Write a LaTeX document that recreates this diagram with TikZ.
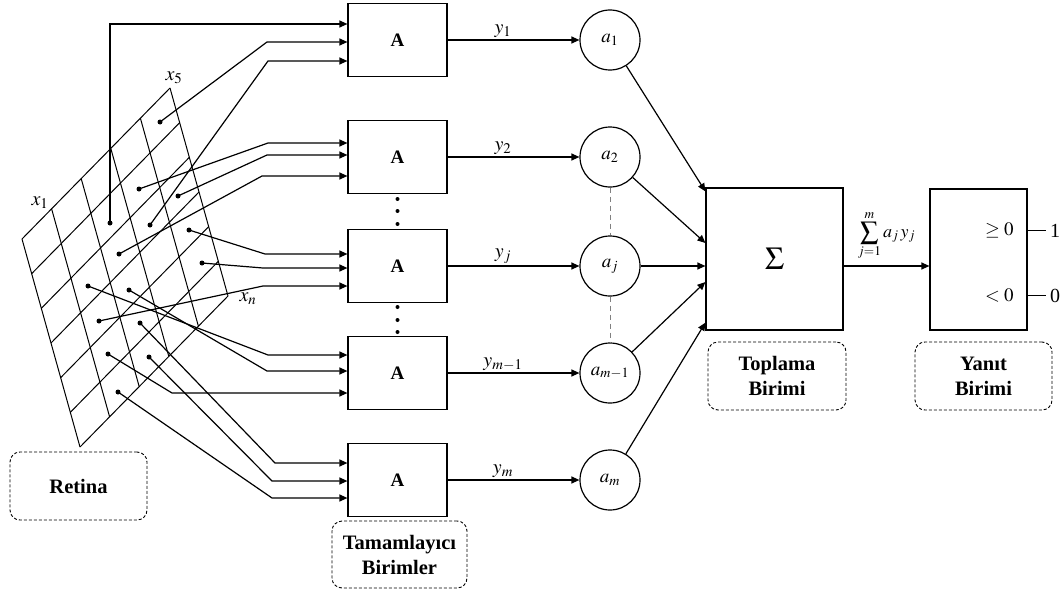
\documentclass[tikz,border=0pt]{standalone}
\usepackage{mathptmx}
\usepackage{fontspec}
\setmainfont{Liberation Serif}
\usetikzlibrary{arrows.meta,calc}

\begin{document}
\begin{tikzpicture}[x=1pt,y=-1pt,line width=1.2pt,
    >={Triangle[length=8pt,width=7pt]},
    abox/.style={draw,minimum width=99pt,minimum height=73pt,inner sep=0pt,font=\fontsize{19}{22}\selectfont\bfseries},
    unit/.style={draw,circle,minimum size=60pt,inner sep=0pt,font=\fontsize{19}{22}\selectfont},
    tag/.style={draw,dash pattern=on 3pt off 2pt,line width=0.9pt,rounded corners=10pt,align=center,inner sep=0pt,font=\fontsize{20.5}{25}\selectfont\bfseries},
    lbl/.style={font=\fontsize{20}{22}\selectfont}]
    \useasboundingbox (0,0) rectangle (1062,594);

    % retina grid
    \coordinate (TL) at (22,239);
    \coordinate (TR) at (170,88);
    \coordinate (BL) at (80,447);
    \coordinate (BR) at (228,296);
    \foreach \i in {0,...,5}
        \draw[line width=1pt] ($(TL)!\i/5!(TR)$) -- ($(BL)!\i/5!(BR)$);
    \foreach \j in {0,...,6}
        \draw[line width=1pt] ($(TL)!\j/6!(BL)$) -- ($(TR)!\j/6!(BR)$);
    \node[lbl] (x1) at (40,203) {$x_1$};
    \node[lbl] (x5) at (174,78) {$x_5$};
    \node[lbl] (xn) at (248,299) {$x_n$};

    % A units and weights
    \foreach \n/\y/\s in {1/40/1,2/157/2,3/266/j,4/373/{m-1},5/480/m} {
        \node[abox] (A\n) at (397.5,\y) {A};
        \node[unit] (c\n) at (610,\y) {$a_{\s}$};
        \draw[->] (A\n.east) -- (c\n) node[lbl,above,pos=0.42,inner sep=2pt] (y\n) {$y_{\s}$};
    }
    \foreach \y in {199,211,224,307,320,332}
        \fill (397.5,\y) circle (2pt);
    \draw[dash pattern=on 5pt off 4pt,line width=0.9pt,gray] (c2) -- (c3);
    \draw[dash pattern=on 5pt off 4pt,line width=0.9pt,gray] (c3) -- (c4);

    % retina to A units
    \foreach \k/\dx/\dy/\bx/\by [count=\i] in {1/110/223/110/24,1/160/122/267/42,1/150/225/268/61,
        2/139/189/268/143,2/178/196/267/155,2/119/254/262/176,
        3/189/230/265/254,3/202/263/263/268,3/99/321/263/286,
        4/88/286/268/355,4/129/290/267/371,4/108/354/172/393,
        5/140/323/275/463,5/149/357/272/481,5/118/392/272/498} {
        \coordinate (d\i) at (\dx,\dy);
        \coordinate (b\i) at (\bx,\by);
        \fill (d\i) circle (2.5pt);
        \draw[->] (d\i) -- (b\i) -- (b\i -| A\k.west);
    }

    % sum and response
    \node[draw,minimum width=137pt,minimum height=142pt,font=\fontsize{32}{34}\selectfont] (S) at (774.5,259) {$\Sigma$};
    \node[draw,minimum width=97pt,minimum height=141pt] (R) at (978.5,259.5) {};
    \draw[->] (c1) -- ($(S.north west)+(0,4)$);
    \draw[->] (c2) -- ($(S.west)+(0,-16)$);
    \draw[->] (c3) -- ($(S.west)+(0,7)$);
    \draw[->] (c4) -- ($(S.west)+(0,23)$);
    \draw[->] (c5) -- ($(S.south west)+(0,-8)$);
    \draw[->] ($(S.east)+(0,7)$) -- ($(R.west)+(0,6.5)$)
        node[midway,above,inner sep=5pt,font=\fontsize{18}{21}\selectfont] (sum) {$\displaystyle\sum_{j=1}^{m} a_j\, y_j$};
    \node[anchor=east,font=\fontsize{19}{22}\selectfont] (ge) at ($(R.east)+(-10,-29)$) {$\geq 0$};
    \node[anchor=east,font=\fontsize{19}{22}\selectfont] (lt) at ($(R.east)+(-10,36)$) {$<0$};
    \draw ($(R.east)+(0,-29)$) -- ++(18,0) node[lbl,right,inner sep=4pt] (o1) {1};
    \draw ($(R.east)+(0,36)$) -- ++(18,0) node[lbl,right,inner sep=4pt] (o0) {0};

    % labels
    \node[tag,minimum width=137pt,minimum height=68pt] (tRet) at (78.5,486) {Retina};
    \node[tag,minimum width=135pt,minimum height=67pt] (tTam) at (399.5,554.5) {Tamamlayıcı\\Birimler};
    \node[tag,minimum width=138pt,minimum height=68pt] (tTop) at (777,376) {Toplama\\Birimi};
    \node[tag,minimum width=137pt,minimum height=68pt] (tYan) at (983.5,376) {Yanıt\\Birimi};
\end{tikzpicture}
\end{document}
